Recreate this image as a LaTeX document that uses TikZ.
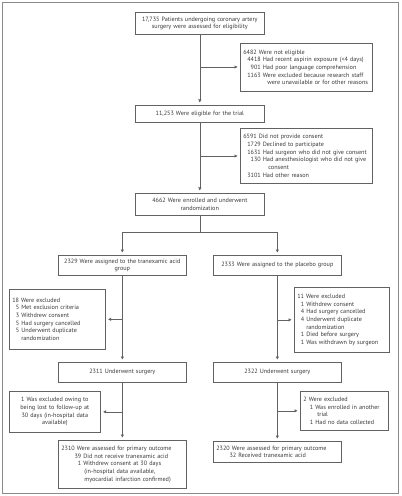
\documentclass[tikz,border=0pt]{standalone}
\usepackage{fontspec}
\setmainfont{PT Sans}
\usetikzlibrary{arrows.meta}
\definecolor{boxline}{HTML}{626262}
\definecolor{txt}{HTML}{383838}
\definecolor{framecol}{HTML}{8A8A8A}
\newcommand\fs{\fontsize{6.2}{7.7}\selectfont\hyphenpenalty=10000 }
\newcommand\nrow[4]{\mbox{\hspace*{#1}\makebox[#2][r]{#3}\hspace{2bp}#4}}
\newcommand\contl[2]{\mbox{\hspace*{#1}#2}}
\begin{document}
\begin{tikzpicture}[x=1bp,y=-1bp,
  box/.style={draw=boxline, line width=0.65bp, inner xsep=3bp, inner ysep=0pt,
    anchor=north west, font=\fs, text=txt},
  cbox/.style={box, align=center},
  lbox/.style={box, align=left},
  conn/.style={draw=boxline, line width=0.65bp},
  arr/.style={conn, -{Triangle[length=3bp,width=3bp]}, shorten >=2.5bp}]
\useasboundingbox (0,0) rectangle (401,496);
\draw[framecol, line width=0.8bp] (2,2) rectangle (398,493);

% main column
\node[cbox, text width=123bp, minimum height=22bp] (b1) at (135,12)
  {17,735 Patients undergoing coronary artery\\surgery were assessed for eligibility};
\node[lbox, text width=126bp, minimum height=48bp] (ne) at (240,43)
  {6482 Were not eligible\\
   \nrow{5bp}{12.5bp}{4418}{Had recent aspirin exposure (<4 days)}\\
   \nrow{5bp}{12.5bp}{901}{Had poor language comprehension}\\
   \nrow{5bp}{12.5bp}{1163}{Were excluded because research staff}\\
   \contl{24bp}{were unavailable or for other reasons}};
\node[cbox, text width=123bp, minimum height=17bp] (b2) at (135,105)
  {11,253 Were eligible for the trial};
\node[lbox, text width=126bp, minimum height=55bp] (nc) at (240,128)
  {6591 Did not provide consent\\
   \nrow{5bp}{12.5bp}{1729}{Declined to participate}\\
   \nrow{5bp}{12.5bp}{1631}{Had surgeon who did not give consent}\\
   \nrow{5bp}{12.5bp}{130}{Had anesthesiologist who did not give}\\
   \contl{25bp}{consent}\\
   \nrow{5bp}{12.5bp}{3101}{Had other reason}};
\node[cbox, text width=123bp, minimum height=22bp] (b3) at (135,193)
  {4662 Were enrolled and underwent\\randomization};

% arms
\node[cbox, text width=122bp, minimum height=20bp] (L1) at (58,255)
  {2329 Were assigned to the tranexamic acid\\group};
\node[cbox, text width=122bp, minimum height=20bp] (R1) at (213,255)
  {2333 Were assigned to the placebo group};
\node[lbox, text width=90bp, minimum height=60bp] (Lx) at (9,289)
  {18 Were excluded\\
   \nrow{3bp}{4bp}{5}{Met exclusion criteria}\\
   \nrow{3bp}{4bp}{3}{Withdrew consent}\\
   \nrow{3bp}{4bp}{5}{Had surgery cancelled}\\
   \nrow{3bp}{4bp}{5}{Underwent duplicate}\\
   \contl{9bp}{randomization}};
\node[lbox, text width=89bp, minimum height=65bp] (Rx) at (294,287)
  {11 Were excluded\\
   \nrow{3bp}{4bp}{1}{Withdrew consent}\\
   \nrow{3bp}{4bp}{4}{Had surgery cancelled}\\
   \nrow{3bp}{4bp}{4}{Underwent duplicate}\\
   \contl{9bp}{randomization}\\
   \nrow{3bp}{4bp}{1}{Died before surgery}\\
   \nrow{3bp}{4bp}{1}{Was withdrawn by surgeon}};
\node[cbox, text width=122bp, minimum height=20bp] (L2) at (58,362)
  {2311 Underwent surgery};
\node[cbox, text width=122bp, minimum height=20bp] (R2) at (213,362)
  {2322 Underwent surgery};
\node[cbox, text width=85bp, minimum height=41bp] (Lx2) at (9,391)
  {1 Was excluded owing to\\being lost to follow-up at\\30 days (in-hospital data\\available)};
\node[lbox, text width=82bp, minimum height=39bp] (Rx2) at (300,391)
  {2 Were excluded\\
   \nrow{6bp}{4bp}{1}{Was enrolled in another}\\
   \contl{14bp}{trial}\\
   \nrow{6bp}{4bp}{1}{Had no data collected}};
\node[lbox, text width=122bp, minimum height=48bp] (L3) at (58,440)
  {2310 Were assessed for primary outcome\\
   \nrow{13bp}{7bp}{39}{Did not receive tranexamic acid}\\
   \nrow{13bp}{7bp}{1}{Withdrew consent at 30 days}\\
   \contl{23bp}{(in-hospital data available,}\\
   \contl{23bp}{myocardial infarction confirmed)}};
\node[lbox, text width=122bp, minimum height=21bp] (R3) at (213,441)
  {2320 Were assessed for primary outcome\\
   \nrow{13bp}{7bp}{32}{Received tranexamic acid}};

% junction points
\coordinate (j1) at (b1.south |- 0,67);
\coordinate (j2) at (b2.south |- 0,156);
\coordinate (sp) at (b3.south |- 0,232);
\coordinate (spL) at (L1.north |- sp);
\coordinate (spR) at (R1.north |- sp);
\coordinate (jL1) at (L1.south |- Lx.east);
\coordinate (jR1) at (R1.south |- Rx.east);
\coordinate (jL2) at (L2.south |- Lx2.east);
\coordinate (jR2) at (R2.south |- Rx2.west);

% connectors
\draw[arr] (b1.south) -- (b2.north);
\draw[arr] (j1) -- (j1 -| ne.west);
\draw[arr] (b2.south) -- (b3.north);
\draw[arr] (j2) -- (j2 -| nc.west);
\draw[conn] (b3.south) -- (sp);
\draw[conn] (spL) -- (spR);
\draw[arr] (spL) -- (L1.north);
\draw[arr] (spR) -- (R1.north);
\draw[arr] (L1.south) -- (L2.north);
\draw[arr] (jL1) -- (jL1 -| Lx.east);
\draw[arr] (R1.south) -- (R2.north);
\draw[arr] (jR1) -- (jR1 -| Rx.west);
\draw[arr] (L2.south) -- (L3.north);
\draw[arr] (jL2) -- (jL2 -| Lx2.east);
\draw[arr] (R2.south) -- (R3.north);
\draw[arr] (jR2) -- (jR2 -| Rx2.west);
\end{tikzpicture}
\end{document}
